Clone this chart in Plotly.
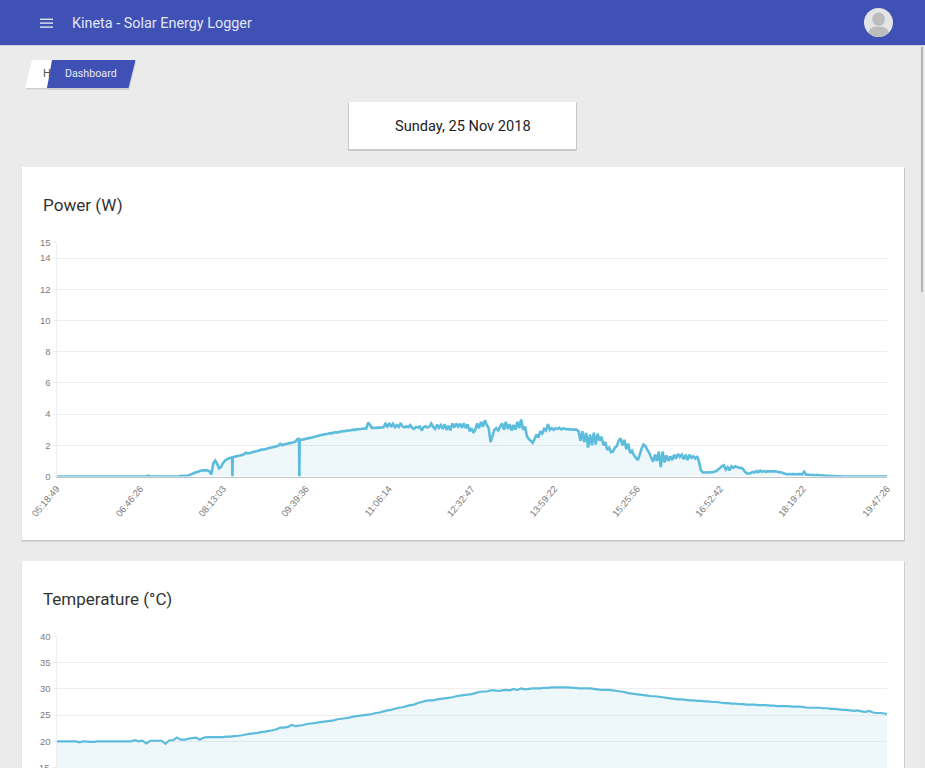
import pandas as pd
import plotly.graph_objects as go

DAY = "2018-11-25 "
tick_labels = ["05:18:49", "06:46:26", "08:13:03", "09:39:36", "11:06:14", "12:32:47",
               "13:59:22", "15:25:56", "16:52:42", "18:19:22", "19:47:26"]
power_ticks = [0, 2, 4, 6, 8, 10, 12, 14, 15]
temp_ticks = [15, 20, 25, 30, 35, 40]

POWER_STEP = 2
power_05 = [0.0] * 21
power_06 = [0.0] * 27 + [0.05, 0.02, 0.0]
power_07 = [0.0] * 14 + [.05, .03, .04, .03, .06, .12, .17, .22, .27, .31, .35, .38, .39, .4, .38, .33]
power_08 = [.12, .85, 1.02, .82, .52, .6, .85, 1.0, 1.1, 1.15, 1.2, 0.0, 1.26, 1.29, 1.33, 1.35, 1.38, 1.42,
            1.52, 1.48, 1.51, 1.54, 1.58, 1.6, 1.63, 1.66, 1.72, 1.72, 1.75, 1.78]
power_09 = [1.82, 1.85, 1.88, 1.9, 1.94, 1.97, 2.1, 2.0, 2.05, 2.08, 2.11, 2.14, 2.17, 2.2, 2.24, 2.4, 0.0,
            2.34, 2.37, 2.4, 2.43, 2.46, 2.49, 2.52, 2.55, 2.58, 2.62, 2.65, 2.68, 2.7]
power_10 = [2.72, 2.74, 2.78, 2.76, 2.82, 2.84, 2.82, 2.86, 2.88, 2.9, 2.92, 2.94, 2.95, 2.96, 3.0, 2.98, 3.02,
            3.03, 3.05, 3.06, 3.07, 3.08, 3.45, 3.3, 3.1, 3.12, 3.12, 3.13, 3.13, 3.14]
power_11 = [3.15, 3.38, 3.2, 3.42, 3.18, 3.38, 3.16, 3.3, 3.18, 3.42, 3.2, 3.15, 3.22, 3.16, 3.3, 3.12, 3.05,
            3.18, 3.14, 3.2, 2.95, 3.16, 3.22, 3.14, 3.2, 3.4, 3.18, 3.05, 3.32, 3.12]
power_12 = [3.3, 3.05, 3.35, 3.0, 3.25, 2.95, 3.4, 3.15, 3.4, 3.2, 3.38, 3.12, 3.42, 3.1, 3.35, 2.9, 3.1, 2.8,
            3.0, 3.4, 3.1, 3.5, 3.2, 3.6, 3.3, 3.1, 2.2, 2.6, 3.0, 3.1]
power_13 = [2.95, 3.2, 3.4, 3.0, 3.5, 3.05, 3.35, 2.95, 3.3, 3.0, 3.5, 3.1, 3.65, 3.0, 3.2, 2.6, 2.4, 2.3, 2.15,
            2.4, 2.7, 2.5, 2.9, 2.75, 3.05, 2.95, 3.35, 3.0, 3.1, 3.0]
power_14 = [3.1, 3.05, 3.12, 3.02, 3.08, 3.05, 3.04, 3.02, 3.03, 3.0, 3.02, 3.0, 2.9, 2.3, 2.9, 2.2, 2.8, 1.85,
            2.7, 2.0, 2.8, 2.05, 2.75, 2.3, 2.55, 2.0, 2.2, 1.7, 1.85, 1.55]
power_15 = [1.6, 1.85, 1.95, 2.3, 2.45, 2.0, 2.35, 1.75, 2.1, 1.5, 1.65, 1.35, 1.2, 1.05, 1.4, 1.8, 2.05, 1.95,
            1.7, 1.5, 1.2, .95, 1.4, 1.0, 1.6, .6, 1.6, .9, 1.35, 1.0]
power_16 = [1.3, 1.05, 1.4, 1.15, 1.45, 1.25, 1.4, 1.1, 1.4, 1.05, 1.4, 1.2, 1.3, 1.15, 1.3, .95, .4, .26, .26,
            .27, .26, .27, .28, .3, .35, .45, .55, .65, .72, .45]
power_17 = [.6, .4, .65, .55, .65, .6, .55, .55, .5, .3, .2, .18, .22, .3, .26, .35, .28, .38, .3, .35, .3, .34,
            .32, .33, .34, .33, .3, .28, .26, .22]
power_18 = [.17, .15, .15, .14, .15, .15, .14, .15, .15, .14, .3, .12, .12, .1, .1, .09, .08, .1, .07, .06, .07,
            .05, .04, .04, .03, .03, .03, .02, .02, .02]
power_19 = [.0] * 24
power_last = [.0]
# flanks of the two sharp drop-outs
power_flank_a = [1.22]
power_flank_b = [1.24]
power_flank_c = [2.41]
power_flank_d = [2.33]

TEMP_STEP = 4
temp_05 = [20, 20, 20, 20, 20, 20, 19.8, 20, 19.95, 19.9, 19.9]
temp_06 = [20, 20, 20, 20, 20, 20, 20, 20, 20, 20, 20.2, 20, 20.1, 19.6, 20.1]
temp_07 = [20.1, 20.1, 20.1, 19.5, 20.2, 20.2, 20.7, 20.3, 20.3, 20.5, 20.6, 20.7, 20.3, 20.7, 20.8]
temp_08 = [20.8, 20.8, 20.8, 20.8, 20.9, 20.9, 21, 21.05, 21.15, 21.3, 21.4, 21.5, 21.6, 21.75, 21.85]
temp_09 = [22, 22.1, 22.3, 22.6, 22.6, 22.75, 23.1, 22.9, 23, 23.1, 23.3, 23.4, 23.45, 23.6, 23.7]
temp_10 = [23.8, 23.9, 24, 24.2, 24.3, 24.4, 24.5, 24.7, 24.8, 24.9, 25, 25.1, 25.2, 25.4, 25.5]
temp_11 = [25.7, 25.9, 26, 26.2, 26.4, 26.5, 26.7, 26.9, 27.0, 27.3, 27.5, 27.7, 27.8, 27.8, 28]
temp_12 = [28.1, 28.2, 28.3, 28.4, 28.6, 28.7, 28.8, 28.9, 29.0, 29.2, 29.4, 29.5, 29.5, 29.7, 29.7]
temp_13 = [29.6, 29.7, 29.8, 29.7, 30.0, 29.8, 30.1, 29.9, 30.0, 30.1, 30.1, 30.1, 30.2, 30.2, 30.3]
temp_14 = [30.3, 30.3, 30.3, 30.3, 30.25, 30.2, 30.1, 30.1, 30.1, 30.1, 30.0, 29.9, 29.8, 29.8, 29.8]
temp_15 = [29.7, 29.6, 29.5, 29.4, 29.2, 29.1, 29, 28.9, 28.8, 28.7, 28.6, 28.6, 28.5, 28.4, 28.3]
temp_16 = [28.2, 28.1, 28, 28, 27.9, 27.8, 27.8, 27.7, 27.7, 27.6, 27.6, 27.5, 27.5, 27.4, 27.3]
temp_17 = [27.3, 27.2, 27.2, 27.1, 27.1, 27, 27, 27, 26.9, 26.9, 26.9, 26.8, 26.8, 26.7, 26.7]
temp_18 = [26.7, 26.7, 26.6, 26.6, 26.6, 26.5, 26.4, 26.4, 26.4, 26.4, 26.3, 26.3, 26.2, 26.2, 26.1]
temp_19 = [26, 26, 25.9, 25.8, 25.9, 25.7, 25.6, 25.8, 25.5, 25.4, 25.4, 25.3]
temp_last = [25.2]

power_starts = ["05:18:49", "06:00:49", "07:00:49", "08:00:49", "09:00:49", "10:00:49", "11:00:49", "12:00:49",
                "13:00:49", "14:00:49", "15:00:49", "16:00:49", "17:00:49", "18:00:49", "19:00:49", "19:47:26",
                "08:22:29", "08:23:09", "09:32:29", "09:33:09"]
power_blocks = [power_05, power_06, power_07, power_08, power_09, power_10, power_11, power_12, power_13,
                power_14, power_15, power_16, power_17, power_18, power_19, power_last,
                power_flank_a, power_flank_b, power_flank_c, power_flank_d]
temp_blocks = [temp_05, temp_06, temp_07, temp_08, temp_09, temp_10, temp_11, temp_12, temp_13, temp_14,
               temp_15, temp_16, temp_17, temp_18, temp_19, temp_last]


def series(starts, blocks, step):
    pts = []
    for start, vals in zip(starts, blocks):
        t0 = pd.Timestamp(DAY + start)
        for i, v in enumerate(vals):
            pts.append((t0 + pd.Timedelta(minutes=i * step), v))
    pts.sort(key=lambda p: p[0])
    return [p[0] for p in pts], [p[1] for p in pts]


W, H = 925, 768
LINE = "#5cbcdb"
FILL = "rgba(92,188,219,0.10)"
GRID = "#eeeeee"
TICK_FAMILY = "Liberation Sans, Arial, sans-serif"
TICKF = dict(family=TICK_FAMILY, size=9.5, color="#7c7c7c")
INDIGO = "#3f51b5"


def fx(v):
    return v / W


def fy(v):
    return 1 - v / H


def rect(x0, y0, x1, y1, color):
    return dict(type="rect", xref="paper", yref="paper", x0=fx(x0), x1=fx(x1), y0=fy(y0), y1=fy(y1),
                fillcolor=color, line=dict(width=0), layer="below")


def poly(points, color):
    d = "M " + " L ".join(f"{fx(a):.5f},{fy(b):.5f}" for a, b in points) + " Z"
    return dict(type="path", xref="paper", yref="paper", path=d, fillcolor=color, line=dict(width=0), layer="below")


def oval(x0, y0, x1, y1, color):
    return dict(type="circle", xref="paper", yref="paper", x0=fx(x0), x1=fx(x1), y0=fy(y0), y1=fy(y1),
                fillcolor=color, line=dict(width=0), layer="below")


def label(x, y, text, size, color, anchor="left", family="Roboto, sans-serif", weight=400):
    return dict(xref="paper", yref="paper", x=fx(x), y=fy(y), text=text, showarrow=False, xanchor=anchor,
                yanchor="middle", font=dict(family=family, size=size, color=color, weight=weight))


shapes = [
    rect(0, 45, W, 46, "#c9cde6"),
    rect(919, 46, W, H, "#e9e9e9"),
    rect(921, 47, 923, 292, "#b4b4b4"),
    # header
    rect(0, 0, W, 45, INDIGO),
    rect(40, 18.6, 53, 20, "#e4e6f4"),
    rect(40, 22.4, 53, 23.8, "#e4e6f4"),
    rect(40, 26.4, 53, 27.8, "#e4e6f4"),
    oval(864, 8, 893, 37, "#e4e4e4"),
    oval(872.3, 12.5, 885, 26, "#bcbcbc"),
    poly([(868.5, 33), (870, 29), (874, 26.8), (883, 26.8), (887, 29), (889, 33), (884, 36), (879, 37), (873, 36)],
         "#bcbcbc"),
    # breadcrumb
    poly([(26, 89.5), (33, 61), (80, 61), (80, 89.5)], "#cfcfcf"),
    poly([(47.5, 90), (54, 62), (136, 62), (129, 90)], "#d0d0d0"),
    poly([(25, 88), (32, 60), (80, 60), (80, 88)], "#ffffff"),
    poly([(47, 88), (52, 60), (135.5, 60), (128.5, 88)], INDIGO),
    # date card
    rect(348, 103, 577, 151, "#c8c8c8"),
    rect(349, 102, 576, 149, "#ffffff"),
    # chart cards
    rect(21, 168, 905, 541.5, "#c6c6c6"),
    rect(21.5, 167, 904, 540, "#ffffff"),
    rect(21, 562, 905, H, "#cfcfcf"),
    rect(21.5, 561, 904, H, "#ffffff"),
]

annotations = [
    label(70, 23.5, "Kineta - Solar Energy Logger", 14.4, "#e2e5f3"),
    label(41, 74, "H", 11, "#555555"),
    label(91, 74, "Dashboard", 10.7, "#e8eaf6", anchor="center"),
    label(462.5, 126, "Sunday, 25 Nov 2018", 14.6, "#222222", anchor="center"),
    label(41, 205, "Power (W)", 17.1, "#333333"),
    label(41, 599, "Temperature (°C)", 17, "#333333"),
    # the last tick label sits on the window's lower edge, where Plotly drops it
    label(52, 767.5, str(temp_ticks[0]), 9.5, "#7c7c7c", anchor="right", family=TICK_FAMILY),
]

x_range = [DAY + tick_labels[0], DAY + tick_labels[-1]]
tick_vals = [DAY + t for t in tick_labels]
px, py = series(power_starts, power_blocks, POWER_STEP)
tx, ty = series(power_starts, temp_blocks, TEMP_STEP)

fig = go.Figure()
fig.add_trace(go.Scatter(x=px, y=py, mode="lines", fill="tozeroy", fillcolor=FILL, cliponaxis=False,
                         line=dict(color=LINE, width=2.6, simplify=False), xaxis="x", yaxis="y", showlegend=False))
fig.add_trace(go.Scatter(x=tx, y=ty, mode="lines", fill="tozeroy", fillcolor=FILL, cliponaxis=False,
                         line=dict(color=LINE, width=2.2, simplify=False), xaxis="x2", yaxis="y2", showlegend=False))

dom_x = [fx(56.5), fx(887)]
fig.update_layout(
    width=W, height=H, margin=dict(l=0, r=0, t=0, b=0, pad=0, autoexpand=False), autosize=False,
    paper_bgcolor="#ebebeb", plot_bgcolor="rgba(0,0,0,0)", showlegend=False,
    shapes=shapes, annotations=annotations,
    xaxis=dict(domain=dom_x, type="date", range=x_range, tickmode="array", tickvals=tick_vals, ticktext=tick_labels,
               tickangle=-50, tickfont=TICKF, showgrid=False, showline=True, linecolor="#c4c4c4", linewidth=1,
               zeroline=False, ticks="", anchor="y", ticklabelstandoff=2, automargin=False),
    yaxis=dict(domain=[fy(476.5), fy(242.5)], range=[0, 15], tickmode="array", tickvals=power_ticks,
               tickfont=TICKF, showgrid=True, gridcolor=GRID, gridwidth=1, showline=True, linecolor=GRID,
               zeroline=False, ticks="outside", ticklen=3, tickcolor=GRID, anchor="x", automargin=False),
    xaxis2=dict(domain=dom_x, type="date", range=x_range, showticklabels=False, showgrid=False, showline=False,
                zeroline=False, ticks="", anchor="y2", automargin=False),
    yaxis2=dict(domain=[0, fy(636.5)], range=[14.9, 40], tickmode="array", tickvals=temp_ticks, tickfont=TICKF,
                showgrid=True, gridcolor=GRID, gridwidth=1, showline=True, linecolor=GRID, zeroline=False,
                ticks="outside", ticklen=3, tickcolor=GRID, anchor="x2", automargin=False),
)

fig.write_html("out.html", config=dict(displayModeBar=False),
               post_script="document.body.style.margin='0';document.body.style.overflow='hidden';")
